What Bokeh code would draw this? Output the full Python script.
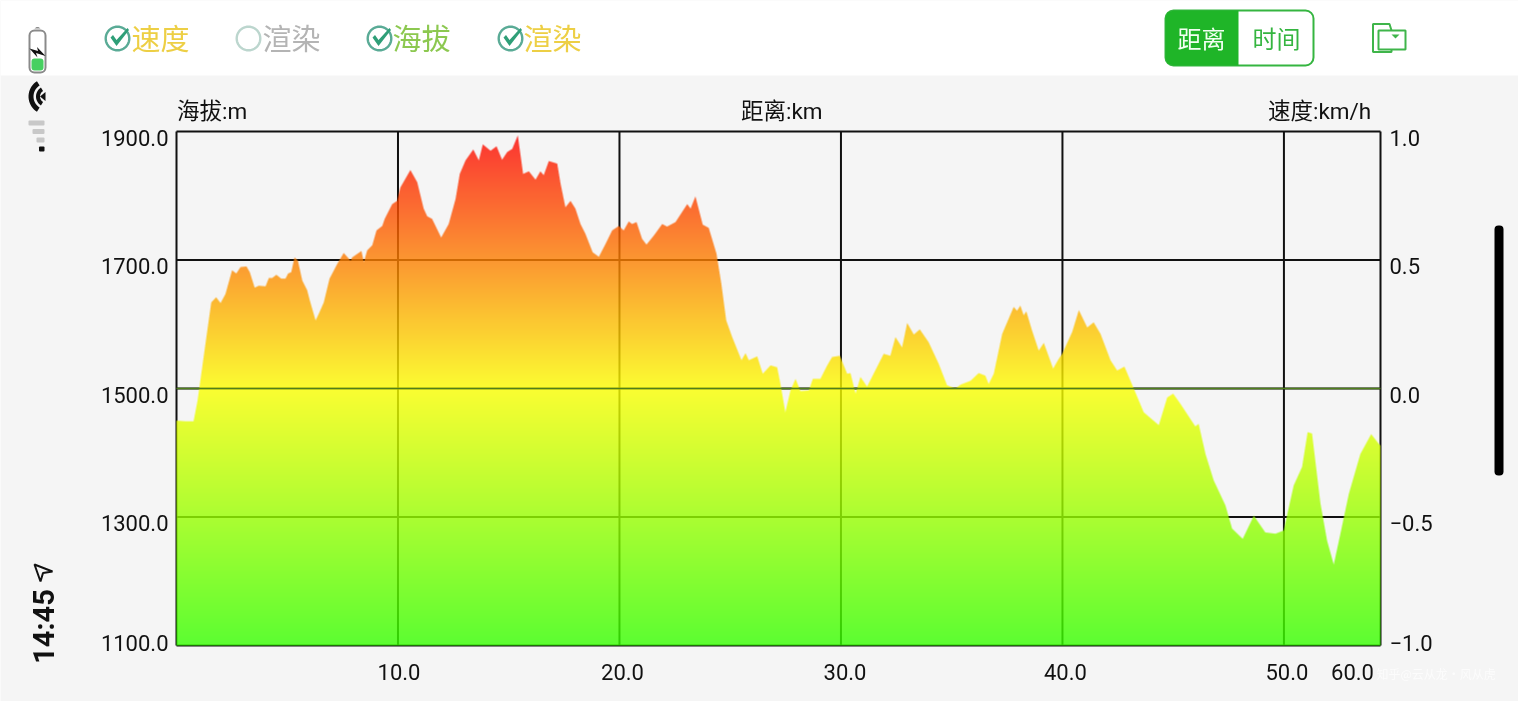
import numpy as np
from bokeh.embed import file_html
from bokeh.resources import INLINE
from bokeh.plotting import figure
from bokeh.models import BoxAnnotation, Label, PolyAnnotation, Range1d

# ---- data ----
distance_km = [0.00,0.41,0.77,0.95,1.39,1.57,1.79,1.99,2.21,2.51,2.70,2.89,3.16,3.31,3.53,3.72,4.02,4.17,4.32,4.51,4.73,4.92,5.04,5.18,5.33,5.48,5.68,5.90,6.02,6.28,6.42,6.65,6.91,7.26,7.55,7.86,7.93,8.35,8.46,8.61,8.84,9.03,9.29,9.40,9.74,9.96,10.11,10.56,10.87,11.16,11.32,11.54,11.95,12.29,12.60,12.79,13.05,13.40,13.65,13.83,14.18,14.45,14.70,14.93,15.16,15.41,15.65,15.91,16.21,16.43,16.58,16.81,17.19,17.34,17.56,17.79,18.01,18.24,18.46,18.79,19.07,19.37,19.67,19.97,20.19,20.42,20.57,20.77,21.02,21.22,21.55,21.93,22.15,22.53,23.06,23.21,23.43,23.76,24.03,24.38,24.60,24.82,25.09,25.51,25.69,25.84,26.22,26.47,26.82,27.12,27.27,27.49,27.72,27.95,28.17,28.55,28.73,29.07,29.38,29.60,29.95,30.28,30.43,30.66,30.88,31.18,31.93,32.23,32.46,32.76,32.99,33.29,33.56,33.96,34.42,34.79,35.17,35.40,35.85,36.22,36.52,36.67,36.90,37.28,37.80,37.95,38.10,38.25,38.37,38.63,38.93,39.16,39.58,39.83,39.99,40.44,40.74,41.12,41.41,41.72,42.17,42.47,42.80,43.22,43.67,44.35,44.73,45.00,45.33,46.00,46.15,46.46,46.83,47.36,47.66,48.14,48.64,49.16,49.62,49.99,50.44,50.82,51.07,51.27,51.65,51.95,52.25,52.55,52.93,53.45,53.94,54.28,54.36]
elevation_m = [1450,1449,1449,1481,1590,1634,1642,1633,1647,1684,1679,1689,1690,1681,1657,1660,1659,1672,1672,1677,1671,1671,1679,1681,1704,1699,1668,1653,1637,1606,1616,1634,1671,1694,1711,1699,1704,1714,1697,1715,1723,1746,1753,1764,1787,1792,1813,1840,1821,1780,1768,1764,1735,1756,1795,1834,1855,1872,1855,1880,1870,1877,1856,1868,1873,1894,1834,1838,1825,1838,1832,1854,1850,1819,1782,1792,1780,1756,1741,1712,1705,1725,1746,1753,1746,1760,1756,1759,1733,1724,1738,1756,1752,1759,1787,1780,1799,1755,1750,1710,1663,1606,1580,1544,1555,1544,1550,1523,1536,1533,1507,1463,1497,1515,1496,1497,1515,1515,1536,1549,1551,1523,1524,1492,1518,1503,1554,1551,1580,1564,1602,1584,1592,1572,1538,1505,1500,1506,1512,1524,1520,1507,1523,1585,1627,1621,1629,1614,1620,1590,1559,1571,1531,1546,1554,1588,1622,1595,1603,1585,1544,1528,1534,1500,1463,1443,1486,1492,1476,1441,1445,1398,1357,1318,1282,1266,1302,1276,1274,1279,1349,1378,1432,1430,1321,1263,1226,1274,1336,1398,1429,1414,1411]
speed_km = [0.00, 54.36]
speed_kmh = [0.0, 0.0]

x_ticks = [10, 20, 30, 40, 50]
x_tick_labels = ["10.0", "20.0", "30.0", "40.0", "50.0", "60.0"]
elev_ticks = [1100, 1300, 1500, 1700, 1900]
elev_tick_labels = ["1100.0", "1300.0", "1500.0", "1700.0", "1900.0"]
speed_ticks = [-1.0, -0.5, 0.0, 0.5, 1.0]
speed_tick_labels = ["\u22121.0", "\u22120.5", "0.0", "0.5", "1.0"]

X_MAX, Y_MIN, Y_MAX = 54.36, 1100, 1900
W, H = 1518, 701
BG = "#f5f5f5"
INK = "#111111"
NUM = "Roboto, 'Noto Sans CJK SC'"
CJK = "'Noto Sans CJK SC'"
# the plot box on the page; the ranges are widened so the whole page lies in the frame
FL, FR, FT, FB = 176, 1380, 131, 645
FW, FH = FR - FL, FB - FT
kx = X_MAX / FW
ky = (Y_MAX - Y_MIN) / FH
ks = 2.0 / FH

p = figure(width=W, height=H, output_backend="svg", toolbar_location=None,
           x_range=Range1d(-FL * kx, X_MAX + (W - FR) * kx),
           y_range=Range1d(Y_MIN - (H - FB) * ky, Y_MAX + FT * ky),
           min_border=0, background_fill_color=BG, border_fill_color=BG, outline_line_color=None,
           styles={"position": "fixed", "left": "0", "top": "0"})
p.extra_y_ranges = {"speed": Range1d(-1 - (H - FB) * ks, 1 + FT * ks)}
p.xaxis.visible = False
p.yaxis.visible = False
p.xgrid.visible = False
p.ygrid.visible = False

# grid and box, under the translucent area
gx = [0] + x_ticks + [X_MAX]
p.segment(gx, [Y_MIN] * len(gx), gx, [Y_MAX] * len(gx), line_color=INK, line_width=2)
p.segment([0] * 5, elev_ticks, [X_MAX] * 5, elev_ticks, line_color=INK, line_width=2)

# gradient-filled elevation area (red - yellow - green, translucent over the grid)
SS = 4
xs = (np.arange(FW * SS) + 0.5) / (FW * SS) * X_MAX
curve = np.interp(xs, distance_km, elevation_m)
cy = (curve - Y_MIN) / (Y_MAX - Y_MIN) * FH
rows = np.arange(FH)[:, None]
cover = np.clip(cy[None, :] - rows, 0, 1)
cover = cover.reshape(FH, FW, SS).mean(axis=2)
t = (rows[:, 0] + 0.5) / FH
stops_t, stops = [0, 0.5, 1], [(54, 255, 0), (252, 255, 0), (252, 0, 0)]
r = np.interp(t, stops_t, [s[0] for s in stops])
g_ = np.interp(t, stops_t, [s[1] for s in stops])
b = np.interp(t, stops_t, [s[2] for s in stops])
img = np.zeros((FH, FW, 4), dtype=np.uint8)
img[..., 0] = r[:, None]
img[..., 1] = g_[:, None]
img[..., 2] = b[:, None]
img[..., 3] = (cover * 0.8 * 255).astype(np.uint8)
arr = img.view(np.uint32).reshape(FH, FW)
p.image_rgba(image=[arr], x=0, y=Y_MIN, dw=X_MAX, dh=Y_MAX - Y_MIN)

# speed series (all zero) on its own range
p.line(speed_km, speed_kmh, y_range_name="speed", line_color="#4f7f1c", line_width=1.6)

# ---- chrome helpers: pixel coordinates measured from top-left of the page ----
LEVEL = "annotation"

def sy(y):
    return H - y

def box(l, t_, r_, b_, fill=None, line=None, width=0, radius=0):
    p.add_layout(BoxAnnotation(left=l, right=r_, top=sy(t_), bottom=sy(b_),
                               left_units="screen", right_units="screen",
                               top_units="screen", bottom_units="screen",
                               fill_color=fill, fill_alpha=1 if fill else 0,
                               line_color=line, line_width=width, line_alpha=1 if line else 0,
                               border_radius=radius, level=LEVEL, editable=False))

def poly(px, py, fill=None, line=None, width=1):
    p.add_layout(PolyAnnotation(xs=list(px), ys=[sy(v) for v in py],
                                xs_units="screen", ys_units="screen",
                                fill_color=fill, fill_alpha=1 if fill else 0,
                                line_color=line, line_width=width, line_alpha=1 if line else 0,
                                level=LEVEL))

def text(x, y, s, size, color, font=CJK, align="left", angle=0.0, style="normal", alpha=1.0):
    p.add_layout(Label(x=x, y=sy(y), x_units="screen", y_units="screen", text=s,
                       text_font=font, text_font_size=f"{size}px", text_color=color,
                       text_align=align, text_baseline="middle", angle=angle, text_alpha=alpha,
                       text_font_style=style, level=LEVEL))

box(0, 0, W, 75, fill="#ffffff")

# check boxes
checks = [(117, "#5aab96", True, 131, "速度", "#edcf45"),
          (248, "#bcd6ce", False, 262, "渲染", "#b4b4b4"),
          (379, "#5aab96", True, 392, "海拔", "#8cc850"),
          (510, "#5aab96", True, 523, "渲染", "#edcf45")]
th = np.linspace(0, 2 * np.pi, 48, endpoint=False)
for cx, ccol, on, tx, s, tcol in checks:
    poly(cx + 11.8 * np.cos(th), 38 + 11.8 * np.sin(th), line=ccol, width=2.4)
    if on:
        poly([cx - 7, cx - 4.5, cx - 1, cx + 10, cx + 11.5, cx - 1],
             [37, 34.5, 39.5, 27.5, 29.5, 45.5], fill="#2f9f78")
    text(tx, 36, s, 29, tcol)

# segmented control
box(1165, 10, 1313, 65, fill="#ffffff", line="#35b540", width=2, radius=8)
poly([1173, 1238, 1238, 1173, 1167, 1165, 1165, 1167],
     [10, 10, 65, 65, 63, 58, 17, 12], fill="#1fb528")
text(1201, 36.5, "距离", 24, "#f2fff2", align="center")
text(1276, 36.5, "时间", 24, "#35b540", align="center")

# folder icon
poly([1372.5, 1389, 1391, 1391, 1372.5], [23.5, 23.5, 30, 51.5, 51.5], fill="#ffffff", line="#3fb54a", width=2)
poly([1378, 1405, 1405, 1378], [30, 30, 49, 49], fill="#ffffff", line="#3fb54a", width=2)
poly([1391, 1399, 1395], [34, 34, 38], fill="#3fb54a")

# status bar: battery
box(29, 30, 45, 72, line="#8a8a8a", width=2, radius=5)
poly([34, 40, 38, 36], [28, 28, 26.5, 26.5], fill="#8a8a8a")
box(31, 58, 43, 70, fill="#46d060", radius=3)
poly([29, 37.5, 36.5, 45, 35.5, 37], [48, 50.5, 46.5, 55.5, 52.5, 57], fill=INK)
# wifi
for r0, r1 in ((13, 18), (6.5, 10.5)):
    a = np.linspace(np.radians(122), np.radians(238), 20)
    poly(np.r_[46 + r1 * np.cos(a), (46 + r0 * np.cos(a))[::-1]],
         np.r_[96 + r1 * np.sin(a), (96 + r0 * np.sin(a))[::-1]], fill=INK)
poly([39.5, 45, 45], [96, 91.5, 100.5], fill=INK)
# signal
for l, t_, col in ((28, 120, "#c8c8c8"), (32, 128.5, "#c8c8c8"), (36, 137, "#c8c8c8"), (38.5, 146, INK)):
    box(l, t_, 44, t_ + 5, fill=col, radius=1)
# clock & arrow
text(43, 626, "14:45", 29, INK, font="Roboto", align="center", angle=np.pi / 2, style="bold")
poly([34, 52, 42.5, 40], [564, 571, 572.5, 581], line=INK, width=2)

# axis titles
text(176.5, 110, "海拔:m", 22.5, INK, font=NUM)
text(740.5, 110, "距离:km", 22.5, INK, font=NUM)
text(1267.5, 110, "速度:km/h", 22.5, INK, font=NUM)

# tick labels, anchored to the scales
def tick_label(x, y, s, xo, yo, align, range_name="default"):
    p.add_layout(Label(x=x, y=y, text=s, x_offset=xo, y_offset=yo, y_range_name=range_name,
                       text_font=NUM, text_font_size="22px", text_color=INK,
                       text_align=align, text_baseline="middle", level=LEVEL))

yo = [3, -6, -6, -6, -6]
for v, s, o in zip(elev_ticks, elev_tick_labels, yo):
    tick_label(0, v, s, -8, o, "right")
for v, s, o in zip(speed_ticks, speed_tick_labels, yo):
    tick_label(X_MAX, v, s, 9, o, "left", "speed")
x_label_pos = x_ticks + [X_MAX]
for v, s, o in zip(x_label_pos, x_tick_labels, [1, 3, 4, 3, 3, -28]):
    tick_label(v, Y_MIN, s, o, -26, "center")

# watermark
text(1376, 673, "知乎@云从龙·风从虎", 12, "#ffffff", alpha=0.7)

# scrollbar
box(1494, 225, 1503, 475, fill="#000000", radius=4)

open("out.html", "w").write(file_html(p, INLINE))
